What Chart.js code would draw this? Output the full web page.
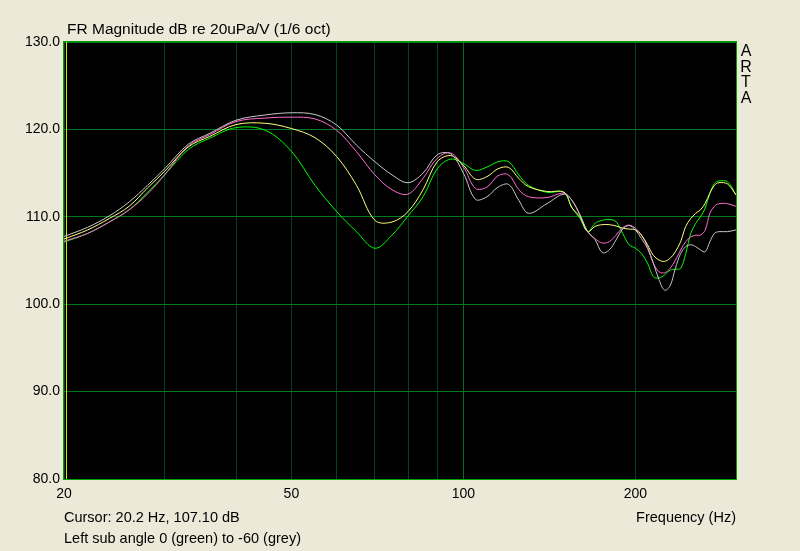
<!DOCTYPE html>
<html>
<head>
<meta charset="utf-8">
<script src="https://cdn.jsdelivr.net/npm/chart.js@4.4.0/dist/chart.umd.min.js"></script>
<style>
  body { margin: 0; background: #ECE9D8; }
  #wrap { width: 800px; height: 551px; }
</style>
</head>
<body>
<div id="wrap"><canvas id="frChart" width="800" height="551"></canvas></div>
<script>
// Frequencies (Hz)
var freqs = [20, 22, 24, 26, 28, 30, 33, 36, 40, 45, 50, 55, 60, 65, 70, 75, 80, 85, 90, 95,
    100, 105, 110, 115, 120, 125, 130, 140, 150, 155, 160, 165, 170, 175, 180, 185, 190, 195,
    200, 205, 210, 215, 220, 225, 230, 235, 240, 245, 250, 255, 260, 265, 270, 275, 280, 290, 300];

// angle 0 (green)
var green = [107.1, 108.1, 109.4, 110.8, 112.8, 114.8, 117.7, 119.0, 120.2, 119.9, 117.5, 113.6, 110.6, 108.3, 106.4, 107.9, 110.1, 112.3, 115.5, 116.6,
    116.1, 115.3, 115.7, 116.3, 116.3, 114.8, 113.6, 112.8, 112.8, 111.0, 109.8, 108.3, 109.25, 109.6, 109.7, 109.45, 108.1, 106.8,
    106.4, 105.8, 104.7, 103.15, 103.0, 103.35, 103.9, 104.0, 104.1, 105.8, 108.1, 109.25, 110.0, 111.0, 112.7, 113.8, 114.1, 114.0, 112.5];

var yellow = [107.45, 108.5, 109.8, 111.2, 113.3, 115.2, 118.0, 119.2, 120.55, 120.7, 120.1, 119.05, 116.9, 113.6, 109.6, 109.4, 110.6, 113.1, 116.3, 117.0,
    115.9, 114.3, 114.6, 115.5, 115.65, 114.4, 113.45, 112.9, 112.8, 111.0, 110.0, 108.3, 108.9, 109.1, 109.1, 108.95, 108.7, 108.6,
    108.5, 107.9, 106.8, 105.6, 105.05, 104.9, 105.25, 106.0, 107.15, 108.9, 109.8, 110.4, 110.8, 111.55, 112.7, 113.6, 113.9, 113.75, 112.5];

var pink = [107.2, 108.1, 109.4, 110.8, 112.6, 114.8, 118.1, 119.4, 120.9, 121.3, 121.4, 121.2, 119.9, 117.45, 114.8, 113.1, 112.6, 114.4, 116.7, 117.3,
    115.7, 113.25, 113.4, 114.7, 114.8, 113.1, 112.3, 112.2, 112.7, 111.85, 110.2, 108.3, 107.5, 107.0, 107.15, 107.9, 108.75, 109.05,
    108.7, 107.9, 106.6, 104.7, 103.7, 103.6, 104.1, 105.05, 106.2, 107.15, 107.7, 107.9, 107.9, 108.5, 110.4, 111.2, 111.5, 111.5, 111.2];

// angle -60 (grey)
var grey = [107.75, 108.8, 110.1, 111.7, 113.6, 115.5, 118.3, 119.55, 121.05, 121.65, 121.9, 121.7, 120.5, 118.2, 116.3, 114.8, 113.9, 115.0, 117.1, 117.2,
    115.0, 112.0, 112.3, 113.4, 113.7, 111.9, 110.4, 111.5, 112.6, 111.85, 110.2, 108.3, 107.4, 105.9, 106.2, 107.35, 108.6, 109.0,
    108.5, 107.5, 106.4, 104.7, 102.8, 101.6, 102.1, 104.1, 105.8, 106.6, 106.8, 106.6, 106.2, 106.0, 107.15, 108.1, 108.3, 108.3, 108.5];

var xGridTicks = [20, 30, 40, 50, 60, 70, 80, 90, 100, 200, 300];
var xLabelTicks = [20, 50, 100, 200];
var cursorFreq = 20.2;

function toPoints(vals) {
    return freqs.map(function(f, i) { return { x: f, y: vals[i] }; });
}

function series(label, vals, color) {
    return {
        label: label,
        data: toPoints(vals),
        borderColor: color,
        borderWidth: 1,
        pointRadius: 0,
        fill: false,
        tension: 0.35
    };
}

var uiFont = "'Liberation Sans', Arial, sans-serif";

// black plot area, cursor, frame and the loose texts
var artaPlugin = {
    id: 'arta',
    beforeDraw: function(chart) {
        var a = chart.chartArea, ctx = chart.ctx;
        ctx.save();
        ctx.fillStyle = '#000000';
        ctx.fillRect(a.left, a.top, a.right - a.left, a.bottom - a.top);
        ctx.restore();
    },
    beforeDatasetsDraw: function(chart) {
        var a = chart.chartArea, ctx = chart.ctx;
        var cx = Math.round(chart.scales.x.getPixelForValue(cursorFreq)) + 0.5;
        ctx.save();
        ctx.strokeStyle = '#e8e000';
        ctx.lineWidth = 1;
        ctx.beginPath();
        ctx.moveTo(cx, a.top);
        ctx.lineTo(cx, a.bottom);
        ctx.stroke();
        ctx.restore();
    },
    afterDraw: function(chart) {
        var a = chart.chartArea, ctx = chart.ctx;
        ctx.save();
        ctx.strokeStyle = '#00a000';
        ctx.lineWidth = 1;
        ctx.strokeRect(a.left - 0.5, a.top - 0.5, a.right - a.left + 1, a.bottom - a.top + 1);

        ctx.fillStyle = '#000000';
        ctx.textBaseline = 'middle';
        ctx.textAlign = 'left';
        ctx.font = '15.5px ' + uiFont;
        ctx.fillText('FR Magnitude dB re 20uPa/V (1/6 oct)', 67, 30);

        ctx.font = '14.5px ' + uiFont;
        ctx.fillText('Cursor: 20.2 Hz, 107.10 dB', 64, 518);
        ctx.fillText('Left sub angle 0 (green) to -60 (grey)', 64, 539);
        ctx.textAlign = 'right';
        ctx.fillText('Frequency (Hz)', 736, 518);

        ctx.textAlign = 'center';
        ctx.font = '16px ' + uiFont;
        ['A', 'R', 'T', 'A'].forEach(function(ch, i) {
            ctx.fillText(ch, 746, 52 + i * 15.5);
        });
        ctx.restore();
    }
};

var frChart = new Chart(document.getElementById('frChart'), {
    type: 'line',
    data: {
        datasets: [
            series('-60', grey, '#c8c8c8'),
            series('yellow', yellow, '#ffff80'),
            series('pink', pink, '#ff6ad0'),
            series('0', green, '#00ff00')
        ]
    },
    options: {
        responsive: false,
        animation: false,
        events: [],
        layout: {
            padding: { top: 42, right: 64, bottom: 0, left: 0 }
        },
        plugins: {
            legend: { display: false },
            tooltip: { enabled: false }
        },
        scales: {
            x: {
                type: 'logarithmic',
                min: 20,
                max: 300,
                afterBuildTicks: function(scale) {
                    scale.ticks = xGridTicks.map(function(v) { return { value: v }; });
                },
                afterFit: function(scale) { scale.height = 72; },
                border: { display: false },
                grid: {
                    drawTicks: false,
                    color: function(ctx) {
                        return ctx.tick && ctx.tick.value === 100 ? '#006e1a' : '#00461a';
                    }
                },
                ticks: {
                    autoSkip: false,
                    maxRotation: 0,
                    padding: 7,
                    color: '#000000',
                    font: { family: uiFont, size: 14 },
                    callback: function(value) {
                        return xLabelTicks.indexOf(value) >= 0 ? String(value) : '';
                    }
                }
            },
            y: {
                min: 80,
                max: 130,
                afterFit: function(scale) { scale.width = 64; },
                border: { display: false },
                grid: {
                    drawTicks: false,
                    color: '#007a1c'
                },
                ticks: {
                    stepSize: 10,
                    padding: 4,
                    color: '#000000',
                    font: { family: uiFont, size: 14 },
                    callback: function(value) { return value.toFixed(1); }
                }
            }
        }
    },
    plugins: [artaPlugin]
});
</script>
</body>
</html>
